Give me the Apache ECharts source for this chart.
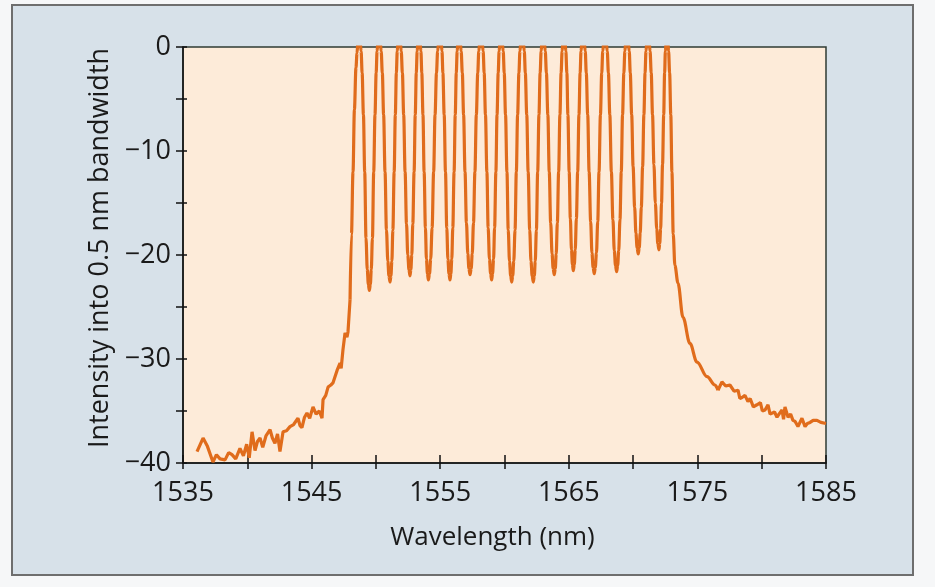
<!DOCTYPE html>
<html>
<head>
<meta charset="utf-8">
<script src="https://cdn.jsdelivr.net/npm/echarts@6/dist/echarts.min.js"></script>
<style>
  html, body { margin: 0; padding: 0; background: #f6f7f8; }
  #chart { width: 935px; height: 587px; }
</style>
</head>
<body>
<div id="chart"></div>
<script>
// wavelength (nm), intensity (dB)
var leftSkirt = [
  [1536.09,-38.9],[1536.56,-37.6],[1536.9,-38.4],[1537.33,-39.9],[1537.6,-39.2],[1537.88,-39.6],
  [1538.27,-39.7],[1538.55,-39.0],[1538.81,-39.2],[1539.1,-39.6],[1539.43,-38.6],[1539.7,-39.3],
  [1539.95,-38.2],[1540.15,-39.5],[1540.37,-37.0],[1540.6,-38.8],[1540.8,-37.9],[1540.99,-37.6],
  [1541.2,-38.5],[1541.45,-37.4],[1541.77,-36.8],[1541.95,-37.6],[1542.15,-38.1],[1542.35,-37.2],
  [1542.54,-38.9],[1542.78,-37.0],[1543.05,-36.9],[1543.32,-36.5],[1543.6,-36.3],[1543.94,-35.7],
  [1544.1,-36.4],[1544.25,-36.6],[1544.45,-35.6],[1544.64,-35.2],[1544.85,-35.7],[1545.11,-34.6],
  [1545.35,-35.3],[1545.6,-35.0],[1545.81,-35.7],[1545.89,-33.9],[1546.1,-33.5],[1546.28,-32.7],
  [1546.5,-32.5],[1546.66,-32.3],[1546.98,-31.1],[1547.21,-30.4],[1547.3,-30.9],[1547.44,-29.1],
  [1547.6,-27.5],[1547.75,-27.9],[1547.83,-27.4],[1547.99,-24.3]
];

// 16 channels, tops clipped at 0 dB
var channelComb = [
  [1547.99,-24.3],[1548.10,-18],[1548.22,-12],[1548.33,-6],[1548.45,-2],[1548.53,-0.6],[1548.61,0.6],[1548.69,1.0],
  [1548.77,0.6],[1548.85,-0.4],[1548.93,-2.5],[1549.03,-6.5],[1549.13,-12],[1549.23,-18.4],[1549.33,-21.4],[1549.41,-22.8],[1549.49,-23.4],
  [1549.57,-22.8],[1549.64,-21.4],[1549.73,-18.4],[1549.83,-12],[1549.93,-6.5],[1550.02,-2.5],[1550.09,-0.4],[1550.17,0.6],[1550.24,1.0],
  [1550.33,0.6],[1550.41,-0.4],[1550.50,-2.5],[1550.60,-6.5],[1550.71,-12],[1550.82,-17.6],[1550.93,-20.6],[1551.01,-22.0],[1551.10,-22.6],
  [1551.17,-22.0],[1551.24,-20.6],[1551.32,-17.6],[1551.42,-12],[1551.51,-6.5],[1551.59,-2.5],[1551.66,-0.4],[1551.73,0.6],[1551.80,1.0],
  [1551.89,0.6],[1551.97,-0.4],[1552.06,-2.5],[1552.16,-6.5],[1552.27,-12],[1552.38,-17.0],[1552.48,-20.0],[1552.57,-21.4],[1552.65,-22.0],
  [1552.72,-21.4],[1552.79,-20.0],[1552.87,-17.0],[1552.97,-12],[1553.06,-6.5],[1553.14,-2.5],[1553.21,-0.4],[1553.28,0.6],[1553.35,1.0],
  [1553.42,0.6],[1553.50,-0.4],[1553.57,-2.5],[1553.66,-6.5],[1553.75,-12],[1553.85,-17.4],[1553.93,-20.4],[1554.01,-21.8],[1554.08,-22.4],
  [1554.17,-21.8],[1554.26,-20.4],[1554.37,-17.4],[1554.49,-12],[1554.60,-6.5],[1554.71,-2.5],[1554.80,-0.4],[1554.89,0.6],[1554.98,1.0],
  [1555.06,0.6],[1555.14,-0.4],[1555.21,-2.5],[1555.31,-6.5],[1555.41,-12],[1555.51,-17.4],[1555.60,-20.4],[1555.68,-21.8],[1555.76,-22.4],
  [1555.83,-21.8],[1555.90,-20.4],[1555.98,-17.4],[1556.08,-12],[1556.17,-6.5],[1556.25,-2.5],[1556.32,-0.4],[1556.39,0.6],[1556.46,1.0],
  [1556.55,0.6],[1556.63,-0.4],[1556.72,-2.5],[1556.82,-6.5],[1556.93,-12],[1557.04,-16.9],[1557.15,-19.9],[1557.23,-21.3],[1557.32,-21.9],
  [1557.41,-21.3],[1557.49,-19.9],[1557.59,-16.9],[1557.70,-12],[1557.81,-6.5],[1557.92,-2.5],[1558.00,-0.4],[1558.09,0.6],[1558.17,1.0],
  [1558.25,0.6],[1558.34,-0.4],[1558.42,-2.5],[1558.52,-6.5],[1558.63,-12],[1558.73,-17.4],[1558.83,-20.4],[1558.92,-21.8],[1559.00,-22.4],
  [1559.07,-21.8],[1559.15,-20.4],[1559.23,-17.4],[1559.33,-12],[1559.42,-6.5],[1559.51,-2.5],[1559.58,-0.4],[1559.66,0.6],[1559.73,1.0],
  [1559.81,0.6],[1559.90,-0.4],[1559.98,-2.5],[1560.08,-6.5],[1560.19,-12],[1560.29,-17.6],[1560.39,-20.6],[1560.48,-22.0],[1560.56,-22.6],
  [1560.64,-22.0],[1560.72,-20.6],[1560.82,-17.6],[1560.92,-12],[1561.02,-6.5],[1561.12,-2.5],[1561.20,-0.4],[1561.28,0.6],[1561.36,1.0],
  [1561.45,0.6],[1561.54,-0.4],[1561.62,-2.5],[1561.73,-6.5],[1561.84,-12],[1561.96,-17.6],[1562.06,-20.6],[1562.15,-22.0],[1562.24,-22.6],
  [1562.32,-22.0],[1562.39,-20.6],[1562.48,-17.6],[1562.58,-12],[1562.68,-6.5],[1562.77,-2.5],[1562.85,-0.4],[1562.92,0.6],[1563.00,1.0],
  [1563.09,0.6],[1563.17,-0.4],[1563.26,-2.5],[1563.37,-6.5],[1563.48,-12],[1563.59,-16.9],[1563.70,-19.9],[1563.78,-21.3],[1563.87,-21.9],
  [1563.95,-21.3],[1564.02,-19.9],[1564.11,-16.9],[1564.21,-12],[1564.31,-6.5],[1564.40,-2.5],[1564.48,-0.4],[1564.55,0.6],[1564.63,1.0],
  [1564.70,0.6],[1564.77,-0.4],[1564.85,-2.5],[1564.93,-6.5],[1565.03,-12],[1565.12,-16.5],[1565.21,-19.5],[1565.28,-20.9],[1565.35,-21.5],
  [1565.43,-20.9],[1565.50,-19.5],[1565.59,-16.5],[1565.69,-12],[1565.79,-6.5],[1565.88,-2.5],[1565.95,-0.4],[1566.03,0.6],[1566.10,1.0],
  [1566.19,0.6],[1566.28,-0.4],[1566.36,-2.5],[1566.47,-6.5],[1566.58,-12],[1566.70,-16.8],[1566.80,-19.8],[1566.89,-21.2],[1566.98,-21.8],
  [1567.06,-21.2],[1567.15,-19.8],[1567.25,-16.8],[1567.35,-12],[1567.46,-6.5],[1567.56,-2.5],[1567.64,-0.4],[1567.73,0.6],[1567.81,1.0],
  [1567.90,0.6],[1567.99,-0.4],[1568.08,-2.5],[1568.19,-6.5],[1568.31,-12],[1568.43,-16.6],[1568.54,-19.6],[1568.63,-21.0],[1568.72,-21.6],
  [1568.80,-21.0],[1568.88,-19.6],[1568.98,-16.6],[1569.08,-12],[1569.18,-6.5],[1569.28,-2.5],[1569.36,-0.4],[1569.44,0.6],[1569.52,1.0],
  [1569.61,0.6],[1569.70,-0.4],[1569.78,-2.5],[1569.89,-6.5],[1570.00,-11.5],[1570.12,-15.4],[1570.22,-17.9],[1570.31,-19.3],[1570.40,-19.9],
  [1570.48,-19.3],[1570.55,-17.9],[1570.64,-15.4],[1570.74,-11.5],[1570.84,-6.5],[1570.93,-2.5],[1571.00,-0.4],[1571.08,0.6],[1571.15,1.0],
  [1571.24,0.6],[1571.32,-0.4],[1571.41,-2.5],[1571.51,-6.5],[1571.62,-11.3],[1571.73,-15.0],[1571.84,-17.5],[1571.92,-18.9],[1572.01,-19.5],
  [1572.07,-18.9],[1572.14,-17.5],[1572.21,-15.0],[1572.29,-11.3],[1572.38,-6.5],[1572.45,-2.5],[1572.51,-0.4],[1572.58,0.6],[1572.64,1.0],
  [1572.70,0.6],[1572.76,-0.4],[1572.84,-2.5],[1572.93,-6.5],[1573.02,-12],[1573.12,-18.0],[1573.25,-21.0],[1573.49,-22.7],
  [1573.88,-26.0],[1574.42,-28.5],[1574.97,-30.3],[1575.75,-31.7],[1576.37,-32.5],[1576.60,-33.0]
];

var rightSkirt = [
  [1576.60,-33.0],[1576.91,-32.2],[1577.2,-32.6],[1577.53,-32.5],[1577.85,-33.1],[1578.16,-33.0],
  [1578.3,-33.8],[1578.47,-33.7],[1578.7,-33.5],[1578.93,-34.1],[1579.1,-33.8],[1579.35,-34.6],
  [1579.63,-34.4],[1579.9,-34.2],[1580.05,-35.0],[1580.26,-34.9],[1580.49,-34.4],[1580.65,-35.3],
  [1580.80,-35.4],[1581.0,-35.1],[1581.19,-35.6],[1581.4,-35.2],[1581.58,-34.9],[1581.7,-35.8],
  [1581.81,-34.6],[1582.05,-35.6],[1582.25,-35.3],[1582.43,-35.9],[1582.6,-36.0],[1582.82,-36.5],
  [1583.13,-35.7],[1583.37,-36.5],[1583.55,-36.2],[1583.76,-36.1],[1584.0,-35.9],[1584.3,-35.9],
  [1584.6,-36.1],[1585.0,-36.2]
];

var xMin = 1535, xMax = 1585, xStep = 5;
var yMin = -40, yMax = 0, yStep = 5;

var lineColor = '#e06c1c';
var font = 'Open Sans';

var chart = echarts.init(document.getElementById('chart'));

function xLabel(v) {
  return (Math.round(v - xMin) % 10 === 0) ? String(v) : '';
}
function yLabel(v) {
  return (Math.round(v) % 10 === 0) ? String(v).replace('-', '\u2212') : '';
}

var lineSeries = function (data, smooth) {
  return {
    type: 'line',
    data: data,
    showSymbol: false,
    smooth: smooth,
    smoothMonotone: 'x',
    clip: true,
    lineStyle: { color: lineColor, width: 3.2 },
    itemStyle: { color: lineColor }
  };
};

var tickStyle = { color: '#111', width: 1.5 };
var plotBox = { left: 183, right: 109, top: 47, bottom: 124 };

chart.setOption({
  backgroundColor: 'transparent',
  animation: false,
  graphic: [{
    type: 'rect',
    z: -10,
    shape: { x: 12, y: 5, width: 901, height: 570 },
    style: { fill: '#d7e1e9', stroke: '#6e6e6e', lineWidth: 2 }
  }],
  grid: [
    Object.assign({ show: true, backgroundColor: '#fdebd9', borderColor: '#2f3b33', borderWidth: 1.5 }, plotBox),
    // same box again, only used for the inner half of the ticks
    Object.assign({ show: false }, plotBox)
  ],
  xAxis: [{
    type: 'value',
    position: 'bottom',
    min: xMin, max: xMax, interval: xStep,
    name: 'Wavelength (nm)',
    nameLocation: 'middle',
    nameGap: 62,
    nameTextStyle: { fontFamily: font, fontSize: 26, color: '#1a1a1a', padding: [0, 24, 0, 0] },
    axisLine: { onZero: false, lineStyle: { color: '#111', width: 1.5 } },
    axisTick: { length: 6, lineStyle: tickStyle },
    axisLabel: { formatter: xLabel, fontFamily: font, fontSize: 27, color: '#1a1a1a', margin: 17, showMinLabel: true, showMaxLabel: true },
    splitLine: { show: false }
  }, {
    type: 'value',
    gridIndex: 1,
    position: 'bottom',
    min: xMin, max: xMax, interval: xStep,
    axisLine: { show: false, onZero: false },
    axisTick: { inside: true, length: 8, lineStyle: tickStyle },
    axisLabel: { show: false },
    splitLine: { show: false }
  }],
  yAxis: [{
    type: 'value',
    position: 'left',
    min: yMin, max: yMax, interval: yStep,
    name: 'Intensity into 0.5 nm bandwidth',
    nameLocation: 'middle',
    nameGap: 64,
    nameTextStyle: { fontFamily: font, fontSize: 27, color: '#1a1a1a', padding: [0, 0, 0, 14] },
    axisLine: { onZero: false, lineStyle: { color: '#111', width: 1.5 } },
    axisTick: { length: 7, lineStyle: tickStyle },
    axisLabel: { formatter: yLabel, fontFamily: font, fontSize: 27, color: '#1a1a1a', margin: 12 },
    splitLine: { show: false }
  }, {
    type: 'value',
    gridIndex: 1,
    position: 'left',
    min: yMin, max: yMax, interval: yStep,
    axisLine: { show: false, onZero: false },
    axisTick: { inside: true, length: 4, lineStyle: tickStyle },
    axisLabel: { show: false },
    splitLine: { show: false }
  }],
  series: [
    lineSeries(leftSkirt, false),
    lineSeries(channelComb, 0.35),
    lineSeries(rightSkirt, false)
  ]
});
</script>
</body>
</html>
